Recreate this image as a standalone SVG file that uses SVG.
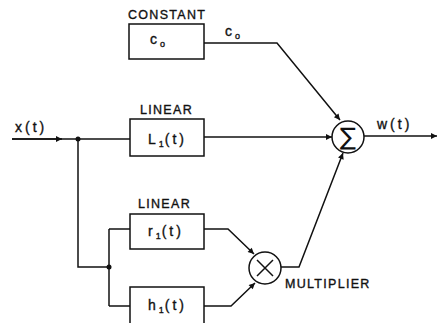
<svg xmlns="http://www.w3.org/2000/svg" width="438" height="323" viewBox="0 0 438 323">
<defs>
<marker id="arr" viewBox="0 0 10 10" refX="10" refY="5" markerWidth="8" markerHeight="6" markerUnits="userSpaceOnUse" orient="auto">
<path d="M0,0 L10,5 L0,10 z" fill="#111"/>
</marker>
</defs>
<style>
.box{fill:#fff;stroke:#111;stroke-width:1.5}
.ln{fill:none;stroke:#111;stroke-width:1.5}
.lbl{font-family:"Liberation Sans",Arial,sans-serif;font-size:12.5px;fill:#111;stroke:#111;stroke-width:0.35;letter-spacing:1.3px}
.in{font-family:"Liberation Sans",Arial,sans-serif;font-size:14px;fill:#111;stroke:#111;stroke-width:0.35;letter-spacing:3px}
.sub{font-size:9px;letter-spacing:1px}
.dot{fill:#111}
</style>
<rect width="438" height="323" fill="#fff"/>
<g id="connectors">
<path class="ln" d="M12,139 H130" />
<path class="ln" d="M12,139 H62" marker-end="url(#arr)"/>
<path class="ln" d="M78,139 V267 H109"/>
<path class="ln" d="M109,229 V306"/>
<path class="ln" d="M109,229 H130"/>
<path class="ln" d="M109,306 H130"/>
<path class="ln" d="M204,43 H277 L340,120" marker-end="url(#arr)"/>
<path class="ln" d="M204,137 H332" marker-end="url(#arr)"/>
<path class="ln" d="M204,229 H228 L254,254" marker-end="url(#arr)"/>
<path class="ln" d="M204,306 H231 L255,283" marker-end="url(#arr)"/>
<path class="ln" d="M281,267 H299 L343,153" marker-end="url(#arr)"/>
<path class="ln" d="M364,136 H437" marker-end="url(#arr)"/>
<circle class="dot" cx="78" cy="139" r="2.5"/>
<circle class="dot" cx="109" cy="267" r="2.5"/>
<text class="in" x="15" y="132">x(t)</text>
<text class="in" x="225" y="36">c<tspan class="sub" dy="3">o</tspan></text>
<text class="in" x="377" y="129">w(t)</text>
</g>
<g id="constant">
<rect class="box" x="129" y="24" width="75" height="35"/>
<text class="lbl" x="128" y="19">CONSTANT</text>
<text class="in" x="150" y="44">c<tspan class="sub" dy="3">o</tspan></text>
</g>
<g id="linear1">
<rect class="box" x="130" y="119" width="74" height="37"/>
<text class="lbl" x="140" y="114">LINEAR</text>
<text class="in" x="148" y="144">L<tspan class="sub" dy="3">1</tspan><tspan dy="-3">(t)</tspan></text>
</g>
<g id="linear2">
<rect class="box" x="130" y="214" width="74" height="35"/>
<text class="lbl" x="138" y="208">LINEAR</text>
<text class="in" x="148" y="236">r<tspan class="sub" dy="3">1</tspan><tspan dy="-3">(t)</tspan></text>
</g>
<g id="h1">
<rect class="box" x="130" y="287" width="74" height="40"/>
<text class="in" x="148" y="310">h<tspan class="sub" dy="3">1</tspan><tspan dy="-3">(t)</tspan></text>
</g>
<g id="sum">
<circle class="box" cx="348" cy="137" r="16"/>
<text x="348" y="145" text-anchor="middle" font-family="DejaVu Sans, sans-serif" font-size="24" fill="#111">∑</text>
</g>
<g id="multiplier">
<circle class="box" cx="265" cy="268" r="16"/>
<path class="ln" d="M257,260 L273,276 M273,260 L257,276"/>
<text class="lbl" x="285" y="288">MULTIPLIER</text>
</g>
</svg>
